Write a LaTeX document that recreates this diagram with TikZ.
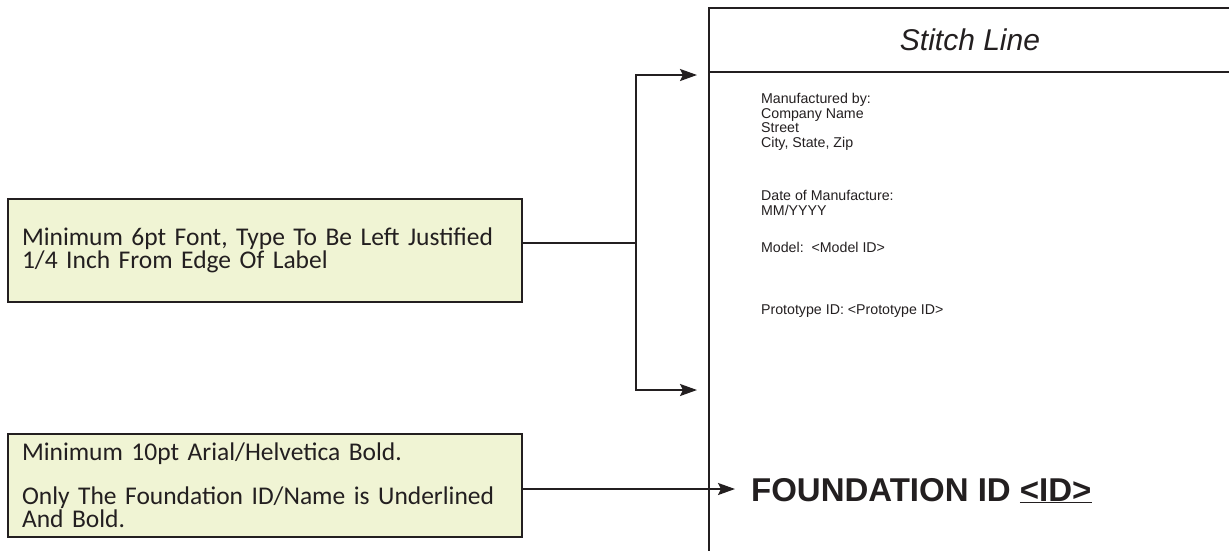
\documentclass[tikz,border=0pt]{standalone}
\usepackage{fontspec}
\setmainfont{Liberation Sans}
\newfontfamily\notefont{Carlito}
\usetikzlibrary{arrows.meta}
\definecolor{notefill}{RGB}{240,244,212}
\definecolor{ink}{RGB}{35,31,32}

\begin{document}
\begin{tikzpicture}[x=1pt, y=-1pt, >={Stealth[length=17pt,width=12pt,inset=3pt]}, line width=2.2pt]
  \tikzset{
    note/.style={draw=ink, line width=2.5pt, fill=notefill, minimum width=514pt, minimum height=103pt,
      text width=486pt, inner xsep=14pt, align=left, text=ink, font=\notefont\fontsize{25.5}{23}\selectfont},
    tag/.style={anchor=north west, align=left, inner sep=0pt, text=ink, font=\fontsize{14.2}{14.8}\selectfont}
  }
  \useasboundingbox (0,0) rectangle (1229,550);

  % label outline
  \draw[ink] (1240,8) -- (709,8) -- (709,560);
  \draw[ink] (709,72) -- (1240,72);
  \node[text=ink, font=\fontsize{30}{30}\selectfont\itshape] (stitch) at (970,40) {Stitch Line};

  \node[tag] (maker) at (760,92) {Manufactured by:\\Company Name\\Street\\City, State, Zip};
  \node[tag] (date) at (760,189) {Date of Manufacture:\\MM/YYYY};
  \node[tag] (model) at (760,241) {Model:\ \ {<}Model ID{>}};
  \node[tag] (proto) at (760,304) {Prototype ID: {<}Prototype ID{>}};
  \node[anchor=base west, inner sep=0pt, text=ink, font=\fontsize{33}{33}\selectfont\bfseries] (found) at (750,501)
    {FOUNDATION ID \underline{<ID>}};

  % notes
  \node[note] (box1) at (265,250.5) {Minimum 6pt Font, Type To Be Left Justified\\1/4 Inch From Edge Of Label};
  \node[note] (box2) at (265,485.5) {Minimum 10pt Arial/Helvetica Bold.\\[21pt]Only The Foundation ID/Name is Underlined\\And Bold.};

  % connectors
  \coordinate (brk) at (636,243);
  \coordinate (tipA) at (697,75);
  \coordinate (tipB) at (697,390);
  \coordinate (tipC) at (735,489);
  \draw[ink] (box1.east |- brk) -- (brk);
  \draw[ink, ->] (brk) |- (tipA);
  \draw[ink, ->] (brk) |- (tipB);
  \draw[ink, ->] (box2.east |- tipC) -- (tipC);
\end{tikzpicture}
\end{document}
